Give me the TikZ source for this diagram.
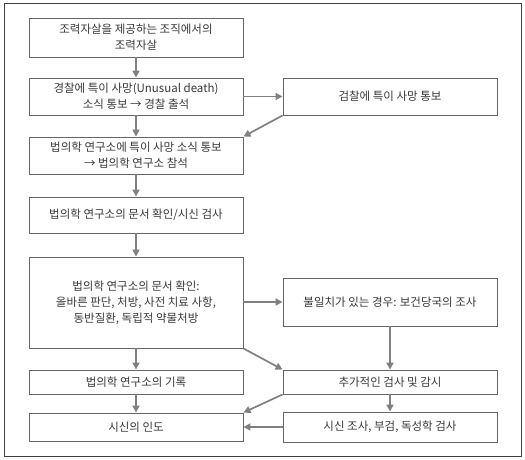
\documentclass[tikz,border=0pt]{standalone}
\usepackage{fontspec}
\setmainfont{Noto Sans CJK KR}
\usetikzlibrary{arrows.meta}
\tikzset{
  box/.style={draw=black!60, line width=0.9pt, rectangle, align=center, font=\fontsize{11.5}{16}\selectfont, text=black!78, inner sep=0pt},
  arr/.style={draw=black!50, line width=1.7pt, -{Triangle[length=7pt,width=7pt]}}
}
\newcommand{\bx}[6]{\node[box, minimum width=#4-#2, minimum height=#5-#3] (#1) at ({(#2+#4)/2},{(#3+#5)/2}) {#6};}
\begin{document}
\begin{tikzpicture}[x=1pt,y=-1pt]
\useasboundingbox (0,0) rectangle (525,460);
\draw[black!75, line width=0.7pt] (4,3) rectangle (521,456);
\bx{a}{29}{18}{243}{57}{조력자살을 제공하는 조직에서의\\조력자살}
\bx{b}{29}{78}{243}{115}{경찰에 특이 사망(Unusual death)\\소식 통보 → 경찰 출석}
\bx{c}{283}{78}{497}{115}{검찰에 특이 사망 통보}
\bx{d}{29}{137}{243}{174}{법의학 연구소에 특이 사망 소식 통보\\→ 법의학 연구소 참석}
\bx{e}{29}{197}{243}{233}{법의학 연구소의 문서 확인/시신 검사}
\bx{f}{29}{257}{243}{348}{법의학 연구소의 문서 확인:\\올바른 판단, 처방, 사전 치료 사항,\\동반질환, 독립적 약물처방}
\bx{g}{283}{278}{497}{326}{불일치가 있는 경우: 보건당국의 조사}
\bx{h}{29}{370}{243}{394}{법의학 연구소의 기록}
\bx{i}{283}{370}{497}{394}{추가적인 검사 및 감시}
\bx{j}{29}{413}{243}{441}{시신의 인도}
\bx{k}{283}{412}{497}{442}{시신 조사, 부검, 독성학 검사}
\draw[arr] (a) -- (b);
\draw[arr] (b.east) -- (c.west);
\draw[arr] (c.south west) -- (d.north east);
\draw[arr] (b) -- (d);
\draw[arr] (d) -- (e);
\draw[arr] (e) -- (f);
\draw[arr] (f.east|-g.west) -- (g.west);
\draw[arr] (f.south west-|h.north) -- (h);
\draw[arr] (f.south east) -- (i.north west);
\draw[arr] (g.south-|i.north) -- (i.north);
\draw[arr] (h) -- (j);
\draw[arr] (i.south west) -- (j.north east);
\draw[arr] (i) -- (k);
\draw[arr] (k.west) -- (j.east);
\end{tikzpicture}
\end{document}
